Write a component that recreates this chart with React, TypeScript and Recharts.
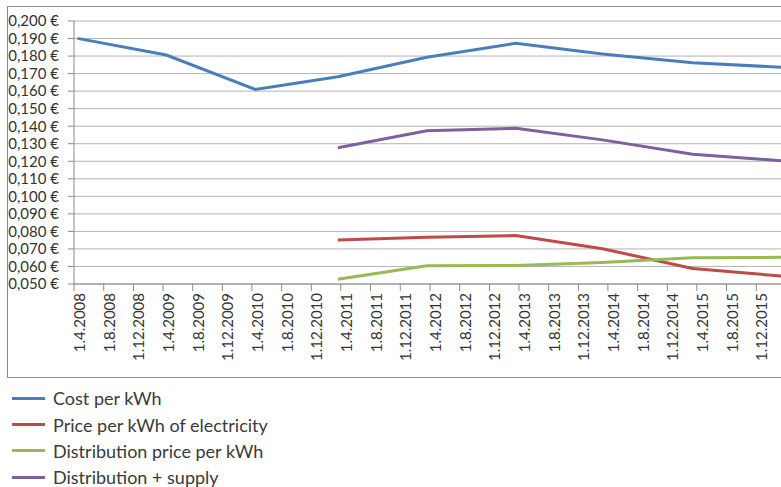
import { LineChart, Line, XAxis, YAxis, CartesianGrid, Legend } from 'recharts';

// data dates (d.m.yyyy)
const pointDates = [
  '15.4.2008', '15.4.2009', '15.4.2010', '20.3.2011', '19.3.2012',
  '19.3.2013', '10.3.2014', '15.3.2015', '15.3.2016',
];
const costPerKwh = [0.1901, 0.1806, 0.161, 0.1682, 0.1793, 0.1873, 0.1812, 0.1762, 0.1736];
const electricityPrice = [null, null, null, 0.0751, 0.0766, 0.0776, 0.0701, 0.0589, 0.0545];
const distributionPrice = [null, null, null, 0.0527, 0.0604, 0.0605, 0.0622, 0.065, 0.0652];
const distributionSupply = [null, null, null, 0.1277, 0.1374, 0.1388, 0.1322, 0.124, 0.1203];

const xTickLabels = [
  '1.4.2008', '1.8.2008', '1.12.2008', '1.4.2009', '1.8.2009', '1.12.2009',
  '1.4.2010', '1.8.2010', '1.12.2010', '1.4.2011', '1.8.2011', '1.12.2011',
  '1.4.2012', '1.8.2012', '1.12.2012', '1.4.2013', '1.8.2013', '1.12.2013',
  '1.4.2014', '1.8.2014', '1.12.2014', '1.4.2015', '1.8.2015', '1.12.2015',
];
const yTicks = [0.05, 0.06, 0.07, 0.08, 0.09, 0.1, 0.11, 0.12, 0.13, 0.14, 0.15, 0.16, 0.17, 0.18, 0.19, 0.2];
const xDomain = ['1.4.2008', '1.4.2016'];

const SERIES = [
  { key: 'cost', label: 'Cost per kWh', color: '#4A7EBB', values: costPerKwh },
  { key: 'elec', label: 'Price per kWh of electricity', color: '#BE4B48', values: electricityPrice },
  { key: 'dist', label: 'Distribution price per kWh', color: '#98B954', values: distributionPrice },
  { key: 'supply', label: 'Distribution + supply', color: '#7D60A0', values: distributionSupply },
];

const FONT = 'Lato, "Open Sans", sans-serif';

function toTime(s: string): number {
  const [d, m, y] = s.split('.').map(Number);
  return Date.UTC(y, m - 1, d);
}

const data = pointDates.map((d, i) => {
  const row: Record<string, number | null> = { t: toTime(d) };
  SERIES.forEach((s) => {
    row[s.key] = s.values[i];
  });
  return row;
});

const xTicks = xTickLabels.map(toTime);

function formatEuro(v: number): string {
  return `${v.toFixed(3).replace('.', ',')} €`;
}

function formatDate(t: number): string {
  const d = new Date(t);
  return `${d.getUTCDate()}.${d.getUTCMonth() + 1}.${d.getUTCFullYear()}`;
}

function RotatedTick(props: any) {
  const { x, y, payload } = props;
  return (
    <g transform={`translate(${x + 11},${y})`}>
      <text transform="rotate(-90)" textAnchor="end" fontSize={15} fontFamily={FONT} fill="#333">
        {formatDate(payload.value)}
      </text>
    </g>
  );
}

function LegendRows() {
  return (
    <div style={{ fontFamily: FONT, fontSize: 18, lineHeight: '20px', color: '#3a3a3a' }}>
      {SERIES.map((s) => (
        <div key={s.key} style={{ display: 'flex', alignItems: 'center', height: 26.4 }}>
          <span style={{ display: 'inline-block', width: 33, height: 3, background: s.color, marginLeft: 12, marginRight: 8 }} />
          <span>{s.label}</span>
        </div>
      ))}
    </div>
  );
}

export default function App() {
  return (
    <div style={{ position: 'fixed', left: 0, top: 0, width: 781, height: 487, overflow: 'hidden', background: '#fff' }}>
      <div
        style={{
          position: 'absolute',
          left: 7,
          top: 6,
          width: 820,
          height: 370,
          border: '1px solid #8a8a8a',
        }}
      />
      <div style={{ position: 'absolute', left: 0, top: 0 }}>
        <LineChart width={800} height={487} data={data} margin={{ top: 21, right: 14, bottom: 110, left: 0 }}>
          <CartesianGrid vertical={false} stroke="#b4b4b4" />
          <XAxis
            dataKey="t"
            type="number"
            scale="linear"
            domain={xDomain.map(toTime)}
            ticks={xTicks}
            interval={0}
            height={93}
            tickSize={7}
            tickMargin={2}
            stroke="#8a8a8a"
            tick={<RotatedTick />}
          />
          <YAxis
            domain={[0.05, 0.2]}
            ticks={yTicks}
            interval={0}
            width={74}
            tickSize={6}
            tickMargin={9}
            stroke="#8a8a8a"
            tickFormatter={formatEuro}
            tick={{ fontSize: 15, fontFamily: FONT, fill: '#333' }}
          />
          {SERIES.map((s) => (
            <Line
              key={s.key}
              dataKey={s.key}
              name={s.label}
              type="linear"
              stroke={s.color}
              strokeWidth={3}
              dot={false}
              activeDot={false}
              isAnimationActive={false}
            />
          ))}
          <Legend
            layout="horizontal"
            verticalAlign="middle"
            wrapperStyle={{ left: 0, top: 385, width: 400 }}
            content={() => <LegendRows />}
          />
        </LineChart>
      </div>
    </div>
  );
}
